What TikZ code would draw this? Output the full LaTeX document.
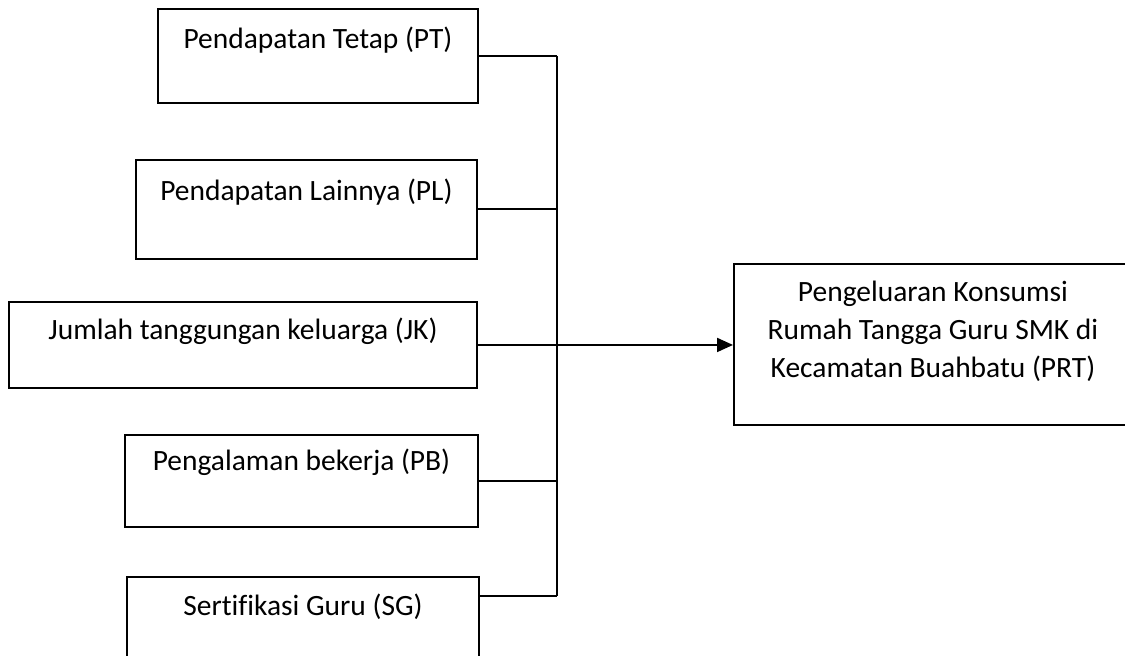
\documentclass[tikz,border=0pt]{standalone}
\usepackage{fontspec}
\setmainfont{Carlito}[Ligatures=NoCommon]
\usetikzlibrary{arrows.meta}
\begin{document}
\begin{tikzpicture}[x=0.75pt, y=-0.75pt,
  box/.style={draw, line width=1.45pt, rectangle, anchor=north west, inner sep=0pt},
  txt/.style={anchor=base, inner sep=0pt, align=center,
    font=\fontsize{22.1}{28.7}\selectfont},
  conn/.style={line width=1.45pt}]
  % page frame
  \path[use as bounding box] (0,0) rectangle (1125,656);
  \clip (0,0) rectangle (1125,656);

  % independent variables
  \node[box, minimum width=240pt, minimum height=70.5pt,
    label={[txt, yshift=-30.5pt]north:Pendapatan Tetap (PT)}] (pt) at (157,8) {};
  \node[box, minimum width=255.75pt, minimum height=74.25pt,
    label={[txt, yshift=-30.75pt]north:Pendapatan Lainnya (PL)}] (pl) at (135,159) {};
  \node[box, minimum width=351pt, minimum height=64.5pt,
    label={[txt, yshift=-29pt]north:Jumlah tanggungan keluarga (JK)}] (jk) at (8,301) {};
  \node[box, minimum width=264.75pt, minimum height=69pt,
    label={[txt, yshift=-27pt]north:Pengalaman bekerja (PB)}] (pb) at (124,434) {};
  \node[box, minimum width=264pt, minimum height=82.5pt,
    label={[txt, yshift=-29.25pt]north:Sertifikasi Guru (SG)}] (sg) at (126,576) {};

  % dependent variable (label anchored on its last baseline)
  \node[box, minimum width=298.5pt, minimum height=120.75pt,
    label={[txt, yshift=-86.1pt]north:Pengeluaran Konsumsi\\Rumah Tangga Guru SMK di\\Kecamatan Buahbatu (PRT)}] (prt) at (733,263) {};

  % collecting bus
  \coordinate (bus) at (557,0);
  \coordinate (sgport) at ([yshift=-15pt]sg.north east);

  \draw[conn] (pt.east) -- (pt.east -| bus);
  \draw[conn] (pl.east) -- (pl.east -| bus);
  \draw[conn] (pb.east) -- (pb.east -| bus);
  \draw[conn] (sgport) -- (sgport -| bus);
  \draw[conn] (pt.east -| bus) -- (sgport -| bus);
  \draw[conn, -{Triangle[length=12pt, width=10.5pt]}] (jk.east) -- (jk.east -| prt.west);
\end{tikzpicture}
\end{document}
